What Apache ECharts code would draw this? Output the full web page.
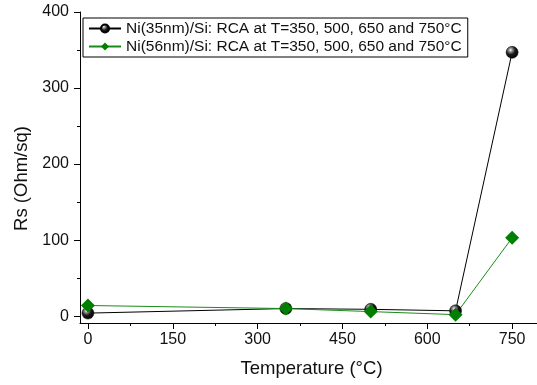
<!DOCTYPE html>
<html><head><meta charset="utf-8">
<script src="https://cdn.jsdelivr.net/npm/echarts@6/dist/echarts.min.js"></script>
<style>html,body{margin:0;padding:0;background:#fff}#c{width:537px;height:385px}</style>
</head><body><div id="c"></div>
<script>
const temperatures = [0, 350, 500, 650, 750];
const ni35 = [4, 10, 9, 7, 347];
const ni56 = [14, 10, 6, 2, 103];
const seriesNames = ['Ni(35nm)/Si: RCA at T=350, 500, 650 and 750°C', 'Ni(56nm)/Si: RCA at T=350, 500, 650 and 750°C'];
const xTicks = [0, 150, 300, 450, 600, 750];
const xMinor = [75, 225, 375, 525, 675];
const yTicks = [0, 100, 200, 300, 400];
const yMinor = [50, 150, 250, 350];

const font = 'Liberation Sans, Arial, sans-serif';
const chart = echarts.init(document.getElementById('c'), null, {renderer: 'canvas'});
const sphere = new echarts.graphic.RadialGradient(0.38, 0.32, 0.72, [
  {offset: 0, color: '#ffffff'}, {offset: 0.18, color: '#999'}, {offset: 0.5, color: '#1a1a1a'}, {offset: 1, color: '#000'}
]);
const xBase = {type: 'value', min: -14, max: 794, gridIndex: 0, position: 'bottom',
  axisLine: {show: true, onZero: false, lineStyle: {color: '#000', width: 1}}, splitLine: {show: false}};
const yBase = {type: 'value', min: -9, max: 400, gridIndex: 0, position: 'left',
  axisLine: {show: true, onZero: false, lineStyle: {color: '#000', width: 1}}, splitLine: {show: false}};
chart.setOption({
  animation: false,
  grid: {left: 80, right: 0, top: 12, bottom: 62, containLabel: false},
  xAxis: [
    Object.assign({}, xBase, {
      name: 'Temperature (°C)', nameLocation: 'middle', nameGap: 36,
      nameTextStyle: {fontFamily: font, fontSize: 18.5, color: '#111', padding: [0, 0, 0, 6]},
      axisTick: {show: true, inside: false, length: 6, customValues: xTicks, lineStyle: {color: '#000'}},
      axisLabel: {show: true, customValues: xTicks, fontFamily: font, fontSize: 16, color: '#111', margin: 9}
    }),
    Object.assign({}, xBase, {
      axisLine: {show: false, onZero: false},
      axisTick: {show: true, length: 3, customValues: xMinor, lineStyle: {color: '#000'}},
      axisLabel: {show: false}
    })
  ],
  yAxis: [
    Object.assign({}, yBase, {
      name: 'Rs (Ohm/sq)', nameLocation: 'middle', nameGap: 49, nameRotate: 90,
      nameTextStyle: {fontFamily: font, fontSize: 18.5, color: '#111', padding: [0, 0, 0, -22]},
      axisTick: {show: true, length: 6, customValues: yTicks, lineStyle: {color: '#000'}},
      axisLabel: {show: true, customValues: yTicks, fontFamily: font, fontSize: 16, color: '#111', margin: 11}
    }),
    Object.assign({}, yBase, {
      axisLine: {show: false, onZero: false},
      axisTick: {show: true, length: 3, customValues: yMinor, lineStyle: {color: '#000'}},
      axisLabel: {show: false}
    })
  ],
  legend: {
    show: true, orient: 'vertical', left: 83, top: 18,
    borderColor: '#000', borderWidth: 1, padding: [2, 6, 2, 5], itemGap: 1,
    itemWidth: 32, itemHeight: 10,
    textStyle: {fontFamily: font, fontSize: 15.5, color: '#111', lineHeight: 17},
    data: seriesNames
  },
  series: [
    {
      name: seriesNames[0], type: 'line',
      data: temperatures.map((t, i) => [t, ni35[i]]),
      symbol: 'circle', symbolSize: 12,
      lineStyle: {color: '#000', width: 1},
      itemStyle: {color: sphere, borderColor: '#000', borderWidth: 0.5}
    },
    {
      name: seriesNames[1], type: 'line',
      data: temperatures.map((t, i) => [t, ni56[i]]),
      symbol: 'diamond', symbolSize: 14,
      lineStyle: {color: '#1a8a1a', width: 1},
      itemStyle: {color: '#008000'}
    }
  ]
});
</script></body></html>
